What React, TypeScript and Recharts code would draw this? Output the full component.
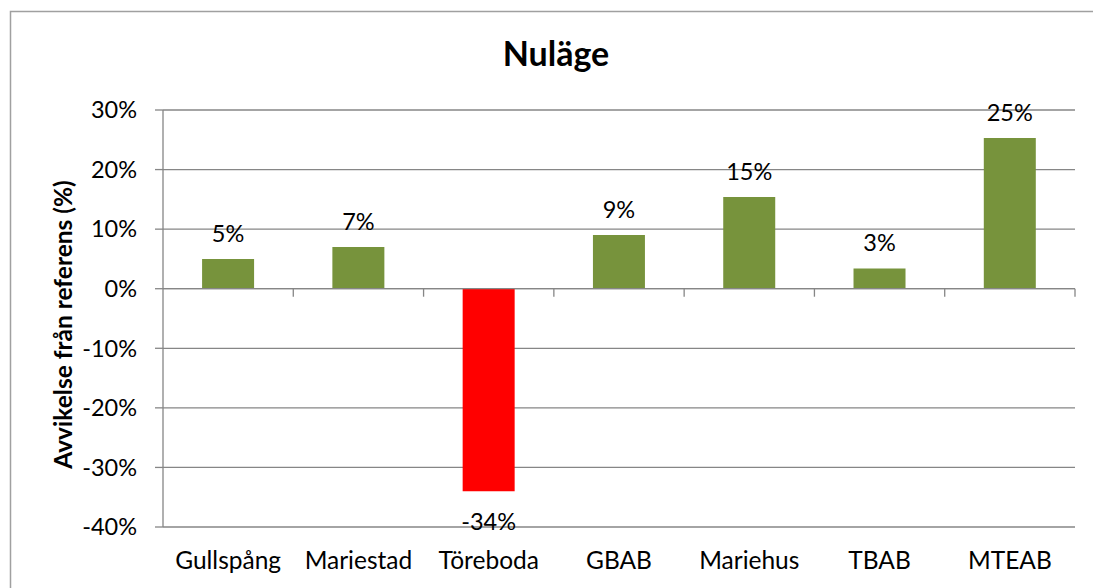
import { BarChart, Bar, XAxis, YAxis, CartesianGrid, Cell, LabelList, ReferenceLine, Label } from 'recharts'

const categories = ['Gullspång', 'Mariestad', 'Töreboda', 'GBAB', 'Mariehus', 'TBAB', 'MTEAB']
const deviation = [5, 7, -34, 9, 15.4, 3.4, 25.3]
const yTicks = [-40, -30, -20, -10, 0, 10, 20, 30]

const data = categories.map((name, i) => ({ name, value: deviation[i] }))

const FONT = 'Lato, "Open Sans", sans-serif'
const GRID = '#868686'
const GREEN = '#77933c'
const RED = '#ff0000'

function BarValue(props: any) {
  const { x, y, width, height, value } = props
  const top = Math.min(y, y + height)
  const bottom = Math.max(y, y + height)
  const cy = value >= 0 ? top - 26 : bottom + 30
  return (
    <text x={x + width / 2} y={cy} textAnchor="middle" dominantBaseline="central"
      fontFamily={FONT} fontSize={23.5} fill="#000">
      {Math.round(value)}%
    </text>
  )
}

// zero line with the small category ticks hanging below it
function ZeroLine(props: any) {
  const { x1, y1, x2, y2 } = props
  if (x1 == null) return null
  const step = (x2 - x1) / categories.length
  return (
    <g>
      <line x1={x1} y1={y1} x2={x2} y2={y2} stroke={GRID} strokeWidth={1.3} />
      {categories.map((_, i) => (
        <line key={i} x1={x1 + step * (i + 1)} y1={y1} x2={x1 + step * (i + 1)} y2={y1 + 8}
          stroke={GRID} strokeWidth={1.3} />
      ))}
    </g>
  )
}

function YTitle(props: any) {
  const { viewBox } = props
  const cx = viewBox.x + 22
  const cy = viewBox.y + viewBox.height / 2 + 6
  return (
    <text x={cx} y={cy} transform={`rotate(-90, ${cx}, ${cy})`} textAnchor="middle"
      dominantBaseline="central" fontFamily={FONT} fontWeight="bold" fontSize={24.5} fill="#000">
      Avvikelse från referens (%)
    </text>
  )
}

export default function App() {
  return (
    <div style={{ position: 'absolute', left: 0, top: 0, width: 1093, height: 588, background: '#fff', overflow: 'hidden' }}>
      <svg width={1093} height={588} style={{ position: 'absolute', left: 0, top: 0 }}>
        <rect x={10.5} y={11.5} width={1100} height={600} fill="#fff" stroke="#a0a0a0" strokeWidth={1.5} />
        <text x={556} y={66} textAnchor="middle" fontFamily={FONT} fontWeight="bold" fontSize={34} fill="#000">
          Nuläge
        </text>
      </svg>
      <div style={{ position: 'absolute', left: 0, top: 0 }}>
        <BarChart width={1093} height={588} data={data}
          margin={{ top: 110, right: 18, bottom: 11, left: 40 }} barCategoryGap="30%">
          <CartesianGrid vertical={false} stroke={GRID} strokeWidth={1.3} />
          <XAxis dataKey="name" axisLine={false} tickLine={false} tickSize={0} tickMargin={25} height={50}
            interval={0} tick={{ fontFamily: FONT, fontSize: 24.5, fill: '#000' }} />
          <YAxis type="number" domain={[-40, 30]} ticks={yTicks} interval={0} width={123}
            tickFormatter={(v: number) => `${v}%`}
            axisLine={{ stroke: GRID, strokeWidth: 1.3 }} tickLine={{ stroke: GRID, strokeWidth: 1.3 }}
            tickSize={8} tickMargin={18}
            tick={{ fontFamily: FONT, fontSize: 23.5, fill: '#000' }}>
            <Label content={YTitle} />
          </YAxis>
          <Bar dataKey="value" isAnimationActive={false}>
            {data.map((d, i) => (
              <Cell key={i} fill={d.value < 0 ? RED : GREEN} />
            ))}
            <LabelList dataKey="value" content={BarValue} />
          </Bar>
          <ReferenceLine y={0} shape={ZeroLine} />
        </BarChart>
      </div>
    </div>
  )
}
